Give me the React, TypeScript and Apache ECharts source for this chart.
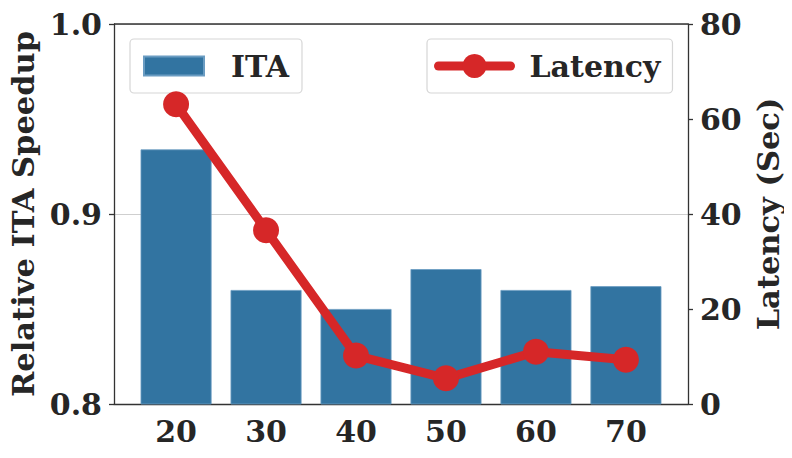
import React, { useEffect, useRef } from "react";
import * as echarts from "echarts";

// Number of tokens kept (x categories)
const categories = ["20", "30", "40", "50", "60", "70"];
// Relative ITA speedup per setting (left axis)
const speedup = [0.934, 0.86, 0.85, 0.871, 0.86, 0.862];
// Latency in seconds (right axis)
const latency = [63.1, 36.6, 10.2, 5.4, 11.0, 9.3];
const leftTicks = [0.8, 0.9, 1.0];
const rightTicks = [0, 20, 40, 60, 80];

const FONT = "DejaVu Serif";
const TEXT = "#262626";
const BLUE = "#3274a1";
const RED = "#d62728";

export default function App() {
  const ref = useRef<HTMLDivElement>(null);

  useEffect(() => {
    if (!ref.current) return;
    const chart = echarts.init(ref.current, null, { renderer: "svg" });
    const idx = categories.map((_, i) => i);
    const base = { fontFamily: FONT, fontWeight: "bold" as const, color: TEXT };
    const tick = { ...base, fontSize: 30 };
    const title = { ...base, fontSize: 30.5 };
    const legendText = { ...base, fontSize: 30 };
    const axisLine = { show: true, onZero: false, lineStyle: { color: "#333", width: 1.3 } };

    chart.setOption({
      animation: false,
      grid: { left: 114, right: 104, top: 24, bottom: 54, show: false, outerBoundsMode: "none" },
      legend: [
        {
          data: [{ name: "ITA", icon: "rect" }],
          left: 130,
          top: 39,
          itemWidth: 60,
          itemHeight: 19,
          padding: [12, 13, 12, 13],
          borderColor: "#d6d6d6",
          borderWidth: 1.2,
          borderRadius: 4,
          backgroundColor: "rgba(255,255,255,0.8)",
          textStyle: { ...legendText, padding: [0, 0, 0, 22] },
        },
        {
          data: ["Latency"],
          left: 427,
          top: 39,
          itemWidth: 72,
          itemHeight: 30,
          padding: [12, 12, 12, 7],
          borderColor: "#d6d6d6",
          borderWidth: 1.2,
          borderRadius: 4,
          backgroundColor: "rgba(255,255,255,0.8)",
          lineStyle: { width: 9, cap: "round" },
          textStyle: { ...legendText, padding: [0, 0, 0, 14] },
        },
      ],
      xAxis: {
        type: "value",
        min: -0.69,
        max: 5.69,
        splitLine: { show: false },
        axisLine,
        axisTick: { show: false },
        axisLabel: {
          ...tick,
          margin: 12,
          customValues: idx,
          formatter: (v: number) => categories[Math.round(v)] ?? "",
        },
      },
      yAxis: [
        {
          type: "value",
          min: 0.8,
          max: 1.0,
          interval: 0.1,
          name: "Relative ITA Speedup",
          nameLocation: "middle",
          nameGap: 73,
          nameRotate: 90,
          nameTextStyle: title,
          axisLine,
          axisTick: { show: true, length: 5, lineStyle: { color: "#333", width: 1.3 } },
          axisLabel: { ...tick, margin: 12, formatter: (v: number) => v.toFixed(1), customValues: leftTicks },
          splitLine: { show: true, lineStyle: { color: "#cfcfcf", width: 1.2 } },
        },
        {
          type: "value",
          min: 0,
          max: 80,
          interval: 20,
          position: "right",
          name: "Latency (Sec)",
          nameLocation: "middle",
          nameGap: 62,
          nameRotate: 90,
          nameTextStyle: title,
          axisLine,
          axisTick: { show: true, length: 5, lineStyle: { color: "#333", width: 1.3 } },
          axisLabel: { ...tick, margin: 12, customValues: rightTicks },
          splitLine: { show: false },
        },
      ],
      graphic: [
        {
          type: "line",
          shape: { x1: 114, y1: 24, x2: 688, y2: 24 },
          style: { stroke: "#333", lineWidth: 1.3 },
          z: 10,
        },
      ],
      series: [
        {
          name: "ITA",
          type: "bar",
          yAxisIndex: 0,
          barWidth: 71,
          itemStyle: { color: BLUE, borderColor: "#6a9cc2", borderWidth: 0.8 },
          data: speedup.map((v, i) => [i, v]),
          z: 2,
        },
        {
          name: "Latency",
          type: "line",
          yAxisIndex: 1,
          symbol: "circle",
          symbolSize: 26,
          lineStyle: { color: RED, width: 9, cap: "round", join: "round" },
          itemStyle: { color: RED },
          data: latency.map((v, i) => [i, v]),
          z: 5,
        },
      ],
    });
    return () => chart.dispose();
  }, []);

  return <div ref={ref} style={{ width: 792, height: 458, margin: -8 }} />;
}
